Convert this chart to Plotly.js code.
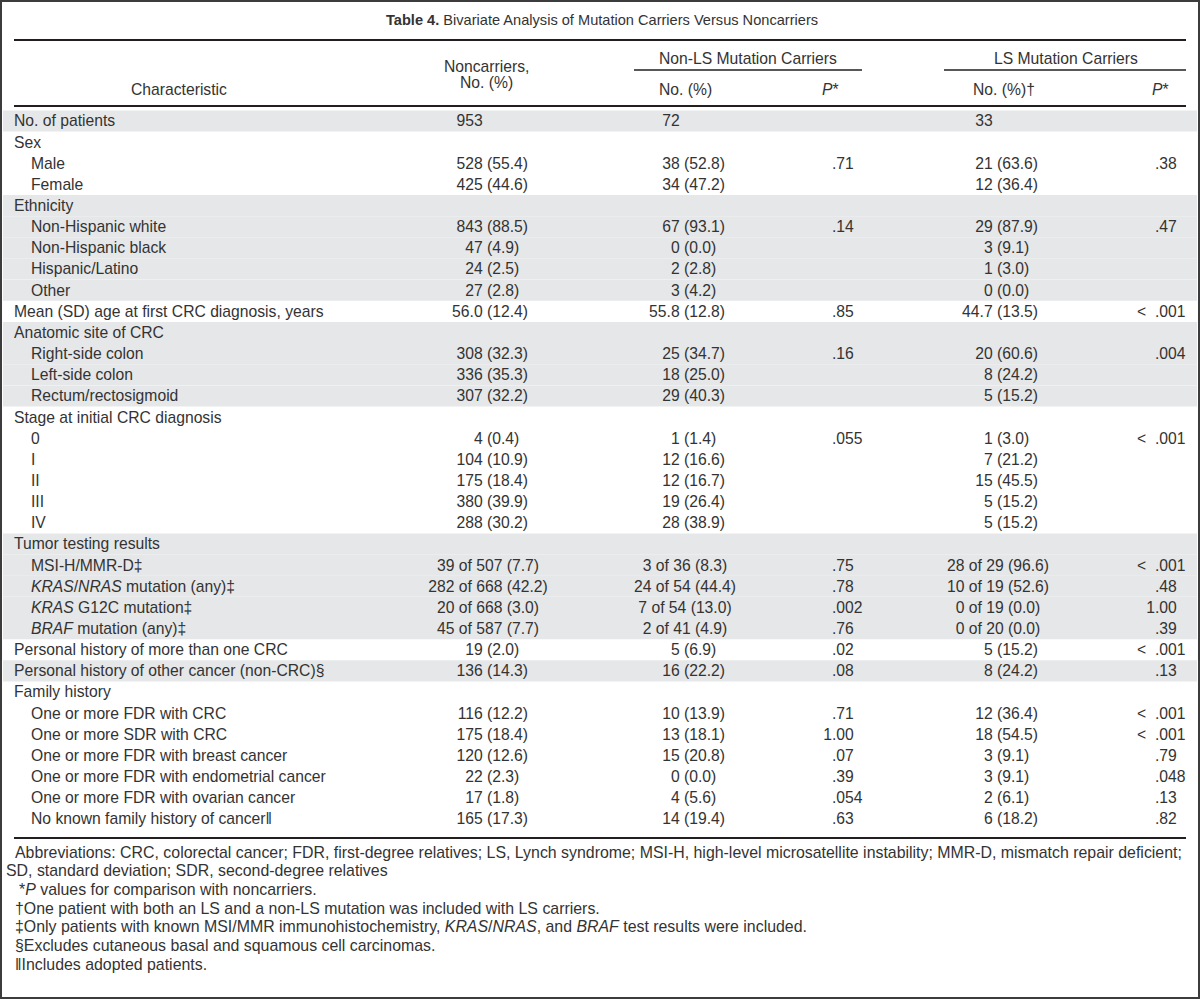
<!DOCTYPE html>
<html>
<head>
<meta charset="utf-8">
<script src="https://cdn.plot.ly/plotly-3.0.1.min.js"></script>
<style>
  html, body { margin: 0; padding: 0; background: #fff; }
  #table4 { width: 1200px; height: 999px; }
</style>
</head>
<body>
<div id="table4"></div>
<script>
// Table 4 rows
const characteristics = [
    'No. of patients', 'Sex', 'Male', 'Female',
    'Ethnicity', 'Non-Hispanic white', 'Non-Hispanic black', 'Hispanic/Latino', 'Other',
    'Mean (SD) age at first CRC diagnosis, years',
    'Anatomic site of CRC', 'Right-side colon', 'Left-side colon', 'Rectum/rectosigmoid',
    'Stage at initial CRC diagnosis', '0', 'I', 'II', 'III', 'IV',
    'Tumor testing results', 'MSI-H/MMR-D‡', '<i>KRAS</i>/<i>NRAS</i> mutation (any)‡',
    '<i>KRAS</i> G12C mutation‡', '<i>BRAF</i> mutation (any)‡',
    'Personal history of more than one CRC',
    'Personal history of other cancer (non-CRC)§',
    'Family history', 'One or more FDR with CRC', 'One or more SDR with CRC',
    'One or more FDR with breast cancer', 'One or more FDR with endometrial cancer',
    'One or more FDR with ovarian cancer', 'No known family history of cancer‖'
];
const indentLevel = [0, 0, 1, 1, 0, 1, 1, 1, 1, 0, 0, 1, 1, 1, 0, 1, 1, 1, 1, 1,
    0, 1, 1, 1, 1, 0, 0, 0, 1, 1, 1, 1, 1, 1];
const shaded = [1, 0, 0, 0, 1, 1, 1, 1, 1, 0, 1, 1, 1, 1, 0, 0, 0, 0, 0, 0,
    1, 1, 1, 1, 1, 0, 1, 0, 0, 0, 0, 0, 0, 0];

const noncarriers = ['953', '', '528 (55.4)', '425 (44.6)',
    '', '843 (88.5)', '47 (4.9)', '24 (2.5)', '27 (2.8)',
    '56.0 (12.4)',
    '', '308 (32.3)', '336 (35.3)', '307 (32.2)',
    '', '4 (0.4)', '104 (10.9)', '175 (18.4)', '380 (39.9)', '288 (30.2)',
    '', '39 of 507 (7.7)', '282 of 668 (42.2)', '20 of 668 (3.0)', '45 of 587 (7.7)',
    '19 (2.0)', '136 (14.3)',
    '', '116 (12.2)', '175 (18.4)', '120 (12.6)', '22 (2.3)', '17 (1.8)', '165 (17.3)'];

const nonLsCarriers = ['72', '', '38 (52.8)', '34 (47.2)',
    '', '67 (93.1)', '0 (0.0)', '2 (2.8)', '3 (4.2)',
    '55.8 (12.8)',
    '', '25 (34.7)', '18 (25.0)', '29 (40.3)',
    '', '1 (1.4)', '12 (16.6)', '12 (16.7)', '19 (26.4)', '28 (38.9)',
    '', '3 of 36 (8.3)', '24 of 54 (44.4)', '7 of 54 (13.0)', '2 of 41 (4.9)',
    '5 (6.9)', '16 (22.2)',
    '', '10 (13.9)', '13 (18.1)', '15 (20.8)', '0 (0.0)', '4 (5.6)', '14 (19.4)'];

const nonLsP = ['', '', '.71', '',
    '', '.14', '', '', '',
    '.85',
    '', '.16', '', '',
    '', '.055', '', '', '', '',
    '', '.75', '.78', '.002', '.76',
    '.02', '.08',
    '', '.71', '1.00', '.07', '.39', '.054', '.63'];

const lsCarriers = ['33', '', '21 (63.6)', '12 (36.4)',
    '', '29 (87.9)', '3 (9.1)', '1 (3.0)', '0 (0.0)',
    '44.7 (13.5)',
    '', '20 (60.6)', '8 (24.2)', '5 (15.2)',
    '', '1 (3.0)', '7 (21.2)', '15 (45.5)', '5 (15.2)', '5 (15.2)',
    '', '28 of 29 (96.6)', '10 of 19 (52.6)', '0 of 19 (0.0)', '0 of 20 (0.0)',
    '5 (15.2)', '8 (24.2)',
    '', '12 (36.4)', '18 (54.5)', '3 (9.1)', '3 (9.1)', '2 (6.1)', '6 (18.2)'];

const lsP = ['', '', '.38', '',
    '', '.47', '', '', '',
    '< .001',
    '', '.004', '', '',
    '', '< .001', '', '', '', '',
    '', '< .001', '.48', '1.00', '.39',
    '< .001', '.13',
    '', '< .001', '< .001', '.79', '.048', '.13', '.82'];

const tableTitle = '<b>Table 4.</b> Bivariate Analysis of Mutation Carriers Versus Noncarriers';
const footnotes = [
    'Abbreviations: CRC, colorectal cancer; FDR, first-degree relatives; LS, Lynch syndrome; MSI-H, high-level microsatellite instability; MMR-D, mismatch repair deficient;',
    'SD, standard deviation; SDR, second-degree relatives',
    '*<i>P</i> values for comparison with noncarriers.',
    '†One patient with both an LS and a non-LS mutation was included with LS carriers.',
    '‡Only patients with known MSI/MMR immunohistochemistry, <i>KRAS</i>/<i>NRAS</i>, and <i>BRAF</i> test results were included.',
    '§Excludes cutaneous basal and squamous cell carcinomas.',
    '‖Includes adopted patients.'
];

// Layout geometry (pixel units on the axes)
const FONT = 'Liberation Sans, Arial, sans-serif';
const TXT = '#333333';
const ROW0 = 121;
const ROW_H = 21.15;
const TEXT_DY = 1.5;
const rowY = characteristics.map((_, i) => ROW0 + i * ROW_H);

// split "528 (55.4)" at the parenthesis, keep "x of y (z)" centred
function countTraces(values, anchor) {
    const left = [], right = [], mid = [];
    values.forEach((v, i) => {
        if (!v) return;
        if (v.indexOf(' of ') >= 0) {
            mid.push({y: rowY[i], t: v});
        } else {
            const k = v.indexOf(' (');
            if (k < 0) {
                left.push({y: rowY[i], t: v + '\u00a0'});
            } else {
                left.push({y: rowY[i], t: v.slice(0, k) + '\u00a0'});
                right.push({y: rowY[i], t: v.slice(k + 1)});
            }
        }
    });
    return [
        textTrace(left, anchor, 'middle left'),
        textTrace(right, anchor, 'middle right'),
        textTrace(mid, anchor + 1, 'middle center')
    ];
}

// P values lined up on the decimal point
function pTraces(values, anchor) {
    const left = [], right = [];
    values.forEach((v, i) => {
        if (!v) return;
        const k = v.indexOf('.');
        const head = v.slice(0, k).replace(' ', '\u00a0\u00a0');
        if (head) left.push({y: rowY[i], t: head});
        right.push({y: rowY[i], t: v.slice(k)});
    });
    return [
        textTrace(left, anchor, 'middle left'),
        textTrace(right, anchor, 'middle right')
    ];
}

function textTrace(items, x, pos) {
    return {
        type: 'scatter',
        mode: 'text',
        x: items.map(() => x),
        y: items.map(d => d.y + TEXT_DY),
        text: items.map(d => d.t),
        textposition: pos,
        textfont: {family: FONT, size: 15.7, color: TXT},
        hoverinfo: 'skip',
        cliponaxis: false
    };
}

const bands = {
    type: 'bar',
    orientation: 'h',
    y: rowY,
    x: rowY.map(() => 1194),
    base: 3,
    width: ROW_H,
    marker: {color: shaded.map(s => s ? '#e6e7e8' : 'rgba(0,0,0,0)'), line: {width: 0}},
    hoverinfo: 'skip'
};

const labels = {
    type: 'scatter',
    mode: 'text',
    x: indentLevel.map(l => l ? 31 : 14),
    y: rowY.map(y => y + TEXT_DY),
    text: characteristics,
    textposition: 'middle right',
    textfont: {family: FONT, size: 15.7, color: TXT},
    hoverinfo: 'skip',
    cliponaxis: false
};

const traces = [bands, labels]
    .concat(countTraces(noncarriers, 487))
    .concat(countTraces(nonLsCarriers, 684))
    .concat(pTraces(nonLsP, 832))
    .concat(countTraces(lsCarriers, 997))
    .concat(pTraces(lsP, 1155));

function note(text, x, y, anchor, size) {
    return {
        text: text, x: x, y: y, xref: 'x', yref: 'y',
        xanchor: anchor, yanchor: 'middle', showarrow: false,
        font: {family: FONT, size: size || 15.7, color: TXT}
    };
}

const annotations = [
    note(tableTitle, 602, 20, 'center', 14.6),
    note('Characteristic', 179, 89, 'center'),
    note('Noncarriers,', 486, 66, 'center'),
    note('No. (%)', 486, 82, 'center'),
    note('Non-LS Mutation Carriers', 748, 58, 'center'),
    note('LS Mutation Carriers', 1066, 58, 'center'),
    note('No. (%)', 657, 89, 'left'),
    note('<i>P</i>*', 841, 89, 'right'),
    note('No. (%)†', 1037, 89, 'right'),
    note('<i>P</i>*', 1171, 89, 'right')
];
const footX = [13, 4, 17, 13, 13, 13, 13];
footnotes.forEach((f, i) => {
    annotations.push(note(f, footX[i], 852 + i * 18.7, 'left', 15.9));
});

function rule(x0, x1, y, w) {
    return {type: 'line', xref: 'x', yref: 'y', x0: x0, x1: x1, y0: y, y1: y,
        line: {color: '#231f20', width: w}};
}

const shapes = [
    rule(14, 1186, 40, 2),
    rule(634, 862, 70, 1.5),
    rule(944, 1186, 70, 1.5),
    rule(14, 1186, 106, 2),
    rule(14, 1186, 838, 2),
    {type: 'rect', xref: 'paper', yref: 'paper', x0: 0, x1: 1, y0: 0, y1: 1,
        line: {color: '#3c3c3c', width: 4}}
];

const layout = {
    width: 1200,
    height: 999,
    margin: {l: 0, r: 0, t: 0, b: 0},
    paper_bgcolor: '#ffffff',
    plot_bgcolor: '#ffffff',
    showlegend: false,
    xaxis: {range: [0, 1200], visible: false, fixedrange: true},
    yaxis: {range: [999, 0], visible: false, fixedrange: true},
    annotations: annotations,
    shapes: shapes,
    hovermode: false
};

Plotly.newPlot('table4', traces, layout, {staticPlot: true});
</script>
</body>
</html>
